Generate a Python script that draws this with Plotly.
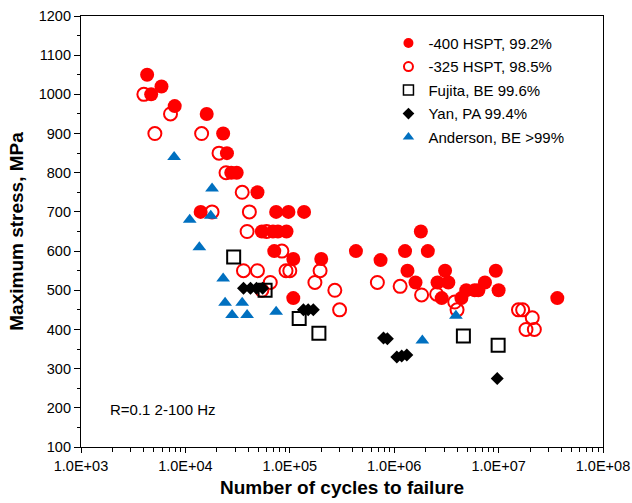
import plotly.graph_objects as go

# -400 HSPT, 99.2% (filled red circles)
hspt400_n = [4.3e3, 5.9e3, 4.7e3, 7.9e3, 1.6e4, 2.3e4, 2.5e4, 2.75e4, 3.1e4, 4.9e4,
             1.4e4, 7.4e4, 9.7e4, 1.37e5, 5.4e4, 6.9e4, 7.7e4, 9.3e4, 7.1e4, 1.08e5,
             2.0e5, 1.08e5, 4.3e5, 7.4e5, 1.27e6, 1.8e6, 2.1e6, 1.34e6, 3.07e6, 9.4e6,
             1.6e6, 2.6e6, 3.3e6, 7.4e6, 4.9e6, 5.9e6, 6.4e6, 1.0e7, 2.85e6, 4.4e6, 3.65e7]
hspt400_s = [1050, 1020, 1000, 970, 950, 900, 850, 800, 800, 750,
             700, 700, 700, 700, 650, 650, 650, 650, 600, 580,
             580, 480, 600, 577, 600, 650, 600, 550, 550, 550,
             520, 520, 520, 520, 500, 500, 500, 500, 480, 480, 480]

# -325 HSPT, 98.5% (open red circles)
hspt325_n = [4.0e3, 7.2e3, 5.1e3, 1.43e4, 2.1e4, 2.45e4, 3.5e4, 1.8e4, 4.1e4, 3.9e4,
             6.0e4, 8.4e4, 3.6e4, 4.9e4, 9.2e4, 1.0e5, 1.95e5, 6.5e4, 1.74e5, 5.4e4,
             2.7e5, 3.0e5, 6.9e5, 1.14e6, 1.83e6, 2.55e6, 3.8e6, 4.0e6, 1.55e7, 1.7e7,
             2.1e7, 1.83e7, 2.2e7]
hspt325_s = [1000, 950, 900, 900, 850, 800, 750, 700, 700, 650,
             650, 600, 550, 550, 550, 550, 550, 520, 520, 500,
             500, 450, 520, 510, 488, 490, 470, 450, 450, 450,
             430, 400, 400]

# Fujita, BE 99.6% (open squares)
fujita_n = [2.9e4, 5.8e4, 1.23e5, 1.9e5, 4.6e6, 9.9e6]
fujita_s = [585, 500, 428, 390, 383, 360]

# Yan, PA 99.4% (black diamonds)
yan_n = [3.6e4, 4.2e4, 4.8e4, 5.5e4, 1.35e5, 1.5e5, 1.68e5, 7.9e5, 8.6e5,
         1.06e6, 1.18e6, 1.32e6, 9.7e6]
yan_s = [505, 505, 505, 505, 450, 450, 450, 378, 376, 330, 332, 335, 275]

# Anderson, BE >99% (blue triangles)
anderson_n = [7.8e3, 1.1e4, 1.36e4, 1.8e4, 1.75e4, 2.3e4, 2.4e4, 3.5e4, 2.8e4,
              3.9e4, 7.4e4, 3.9e6, 1.86e6]
anderson_s = [840, 680, 610, 760, 690, 530, 468, 468, 437, 437, 445, 435, 372]

series_names = ["-400 HSPT, 99.2%", "-325 HSPT, 98.5%", "Fujita, BE 99.6%",
                "Yan, PA 99.4%", "Anderson, BE >99%"]

x_tickvals = [1e3, 1e4, 1e5, 1e6, 1e7, 1e8]
x_ticktext = ["1.0E+03", "1.0E+04", "1.0E+05", "1.0E+06", "1.0E+07", "1.0E+08"]
x_minor = [m * 10 ** k for k in range(3, 8) for m in range(2, 10)]

FONT = "Arial, Liberation Sans, sans-serif"
RED = "#FF0000"
BLUE = "#0070C0"
BLACK = "#000000"

styles = [
    dict(symbol="circle", size=14, color=RED, line=dict(width=0)),
    dict(symbol="circle-open", size=13, color=RED, line=dict(width=2, color=RED)),
    dict(symbol="square-open", size=13, color=BLACK, line=dict(width=2, color=BLACK)),
    dict(symbol="diamond", size=10, color=BLACK, line=dict(width=0)),
    dict(symbol="triangle-up", size=12, color=BLUE, line=dict(width=0)),
]
legend_styles = [
    dict(symbol="circle", size=10, color=RED, line=dict(width=0)),
    dict(symbol="circle-open", size=9, color=RED, line=dict(width=2, color=RED)),
    dict(symbol="square-open", size=10, color=BLACK, line=dict(width=1.5, color=BLACK)),
    dict(symbol="diamond", size=9, color=BLACK, line=dict(width=0)),
    dict(symbol="triangle-up", size=10, color=BLUE, line=dict(width=0)),
]
data = [(hspt400_n, hspt400_s), (hspt325_n, hspt325_s), (fujita_n, fujita_s),
        (yan_n, yan_s), (anderson_n, anderson_s)]

fig = go.Figure()
for i, (xs, ys) in enumerate(data):
    fig.add_trace(go.Scatter(x=xs, y=ys, mode="markers", name=series_names[i],
                             legendgroup=str(i), showlegend=False,
                             marker=styles[i]))
for i in range(len(data)):
    fig.add_trace(go.Scatter(x=[None], y=[None], mode="markers", name=series_names[i],
                             legendgroup=str(i), showlegend=True,
                             marker=legend_styles[i]))

fig.add_annotation(text="R=0.1 2-100 Hz", xref="paper", yref="paper",
                   x=0.052, y=0.086, xanchor="left", yanchor="middle",
                   showarrow=False, font=dict(family=FONT, size=15, color=BLACK))

fig.update_layout(
    width=632, height=503,
    margin=dict(l=81, r=29, t=16, b=56),
    paper_bgcolor="white", plot_bgcolor="white",
    font=dict(family=FONT, size=14.5, color=BLACK),
    legend=dict(x=0.589, y=0.975, xanchor="left", yanchor="top",
                bgcolor="rgba(0,0,0,0)", borderwidth=0,
                font=dict(family=FONT, size=15, color=BLACK),
                tracegroupgap=1, itemsizing="trace"),
    xaxis=dict(type="log", range=[3, 8], automargin=False,
               tickmode="array", tickvals=x_tickvals, ticktext=x_ticktext,
               ticks="outside", ticklen=5, tickcolor=BLACK,
               minor=dict(tickvals=x_minor, ticks="outside", ticklen=4,
                          tickcolor=BLACK, showgrid=False),
               showgrid=False, zeroline=False,
               showline=True, linecolor=BLACK, linewidth=1.2, mirror=True,
               tickfont=dict(family=FONT, size=14.5, color=BLACK),
               title=dict(text="<b>Number of cycles to failure</b>",
                          font=dict(family=FONT, size=19, color=BLACK),
                          standoff=8)),
    yaxis=dict(range=[100, 1200], dtick=100, tick0=100, automargin=False,
               ticks="outside", ticklen=6, tickcolor=BLACK,
               minor=dict(dtick=50, ticks="outside", ticklen=3,
                          tickcolor=BLACK, showgrid=False),
               showgrid=False, zeroline=False,
               showline=True, linecolor=BLACK, linewidth=1.2, mirror=True,
               tickfont=dict(family=FONT, size=14.5, color=BLACK),
               title=dict(text="<b>Maximum stress, MPa</b>",
                          font=dict(family=FONT, size=19, color=BLACK),
                          standoff=10)),
)

fig.write_html("out.html")
